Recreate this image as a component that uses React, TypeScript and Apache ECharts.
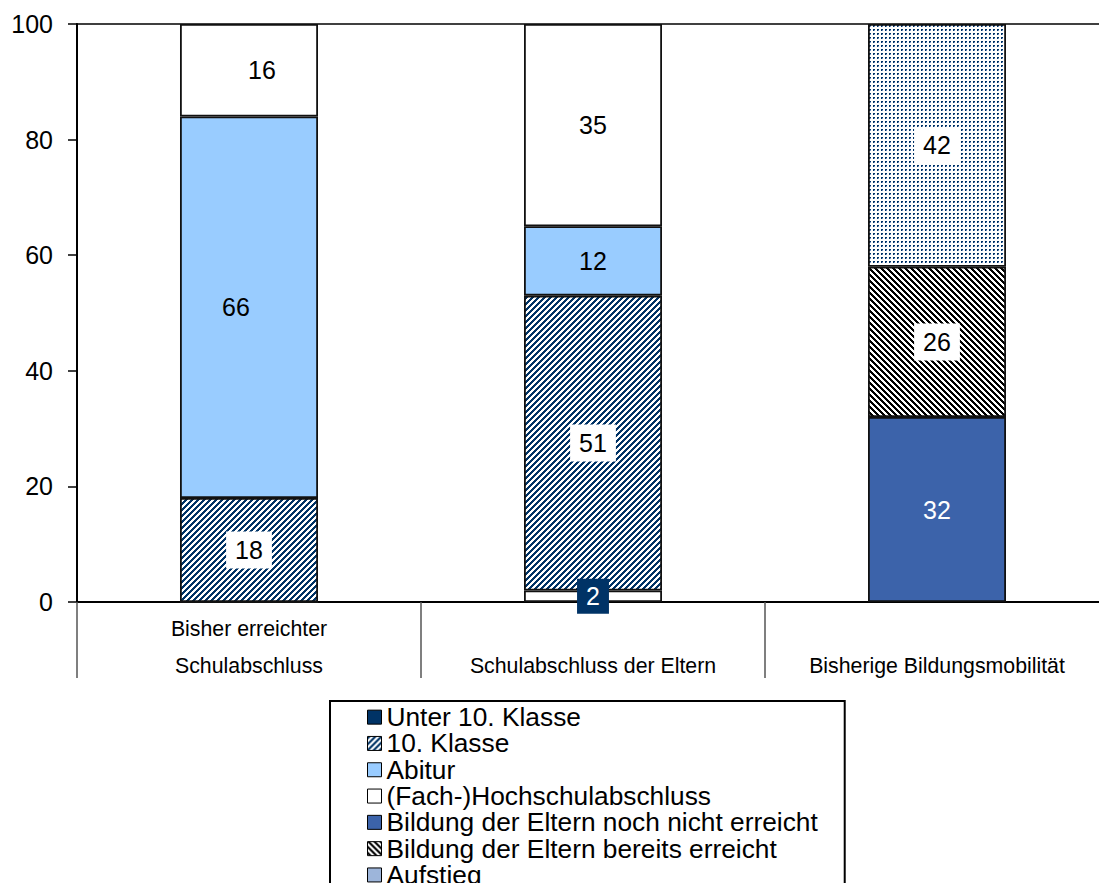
import React, { useEffect, useRef } from 'react';
import * as echarts from 'echarts';

const FONT = '"Liberation Sans", Arial, Helvetica, sans-serif';

const categories = ['Bisher erreichter\nSchulabschluss', 'Schulabschluss der Eltern', 'Bisherige Bildungsmobilität'];
const yMin = 0;
const yMax = 100;
const yStep = 20;

const seriesNames = [
  'Unter 10. Klasse',
  '10. Klasse',
  'Abitur',
  '(Fach-)Hochschulabschluss',
  'Bildung der Eltern noch nicht erreicht',
  'Bildung der Eltern bereits erreicht',
  'Aufstieg',
];

const unter10: (number | string)[] = [0, 2, '-'];
const klasse10: (number | string)[] = [18, 51, '-'];
const abitur: (number | string)[] = [66, 12, '-'];
const hochschul: (number | string)[] = [16, 35, '-'];
const nochNicht: (number | string)[] = ['-', '-', 32];
const bereits: (number | string)[] = ['-', '-', 26];
const aufstieg: (number | string)[] = ['-', '-', 42];

type RGB = [number, number, number];

function makeTile(size: number, fn: (x: number, y: number) => RGB) {
  const c = document.createElement('canvas');
  c.width = size;
  c.height = size;
  const ctx = c.getContext('2d')!;
  const img = ctx.createImageData(size, size);
  for (let y = 0; y < size; y++) {
    for (let x = 0; x < size; x++) {
      const [r, g, b] = fn(x, y);
      const i = (y * size + x) * 4;
      img.data[i] = r;
      img.data[i + 1] = g;
      img.data[i + 2] = b;
      img.data[i + 3] = 255;
    }
  }
  ctx.putImageData(img, 0, 0);
  return { image: c.toDataURL(), imageWidth: size, imageHeight: size, repeat: 'repeat' };
}

const NAVY: RGB = [0, 51, 102];
const WHITE: RGB = [255, 255, 255];
const BLACK: RGB = [0, 0, 0];
const LIGHT: RGB = [120, 150, 200];

function buildOption() {
  const stripeNavy = makeTile(6, (x, y) => ((x + y) % 6 < 3 ? NAVY : WHITE));
  const stripeBlack = makeTile(6, (x, y) => ((x - y + 60) % 6 < 3 ? BLACK : WHITE));
  const dots = makeTile(4, (x, y) => {
    if (y === 1 && (x === 1 || x === 2)) return NAVY;
    if (y === 2 && x === 1) return NAVY;
    if (y === 2 && x === 2) return LIGHT;
    return WHITE;
  });

  const baseLabel = {
    show: true,
    position: 'inside',
    fontSize: 25,
    fontFamily: FONT,
    color: '#000',
    backgroundColor: '#fff',
    padding: [6, 9],
  };

  const labelOverrides: Record<string, any> = {
    'Abitur|0': { offset: [-13, 0] },
    '(Fach-)Hochschulabschluss|0': { offset: [13, 0] },
  };

  const mkData = (name: string, arr: (number | string)[]) =>
    arr.map((v, i) => {
      if (v === 0) return { value: 0, label: { show: false } };
      const o = labelOverrides[name + '|' + i];
      return o ? { value: v, label: o } : v;
    });

  const common = {
    type: 'bar',
    stack: 'total',
    barWidth: 138,
    xAxisIndex: 0,
    yAxisIndex: 0,
  };
  const border = { borderColor: '#111', borderWidth: 1.8 };

  const unterData = mkData(seriesNames[0], unter10).map((d: any, i: number) =>
    i === 1 && typeof d === 'number'
      ? {
          value: d,
          itemStyle: { color: '#fff' },
          label: { color: '#fff', backgroundColor: '#003366', padding: [8, 9, 2, 9] },
        }
      : d
  );

  const series = [
    { ...common, name: seriesNames[0], data: unterData, itemStyle: { color: '#003366', ...border }, label: baseLabel },
    { ...common, name: seriesNames[1], data: mkData(seriesNames[1], klasse10), itemStyle: { color: stripeNavy, ...border }, label: baseLabel },
    { ...common, name: seriesNames[2], data: mkData(seriesNames[2], abitur), itemStyle: { color: '#99CCFF', ...border }, label: { ...baseLabel, backgroundColor: 'transparent' } },
    { ...common, name: seriesNames[3], data: mkData(seriesNames[3], hochschul), itemStyle: { color: '#FFFFFF', ...border }, label: baseLabel },
    { ...common, name: seriesNames[4], data: mkData(seriesNames[4], nochNicht), itemStyle: { color: '#3C63AA', ...border }, label: { ...baseLabel, color: '#fff', backgroundColor: 'transparent' } },
    { ...common, name: seriesNames[5], data: mkData(seriesNames[5], bereits), itemStyle: { color: stripeBlack, ...border }, label: baseLabel },
    { ...common, name: seriesNames[6], data: mkData(seriesNames[6], aufstieg), itemStyle: { color: dots, ...border }, label: baseLabel },
  ];

  return {
    animation: false,
    textStyle: { fontFamily: FONT },
    grid: { left: 77, top: 24, width: 1032, height: 578, containLabel: false },
    legend: {
      orient: 'vertical',
      left: 330,
      top: 701,
      padding: [3, 27, 3, 37],
      icon: 'rect',
      itemWidth: 14,
      itemHeight: 14,
      itemGap: 0,
      borderColor: '#000',
      borderWidth: 2,
      backgroundColor: '#fff',
      selectedMode: false,
      textStyle: { fontSize: 26.3, lineHeight: 26.3, color: '#000', fontFamily: FONT },
      itemStyle: { borderColor: '#000', borderWidth: 1 },
      data: seriesNames.map((n) =>
        n === 'Aufstieg' ? { name: n, itemStyle: { color: '#9DB5DA', borderColor: '#000', borderWidth: 1 } } : { name: n }
      ),
    },
    xAxis: [
      {
        type: 'category',
        data: categories,
        position: 'bottom',
        axisLine: { show: true, lineStyle: { color: '#000', width: 2 } },
        axisTick: { show: true, length: 76, lineStyle: { color: '#555', width: 1.5 } },
        axisLabel: {
          interval: 0,
          fontSize: 21.3,
          fontFamily: FONT,
          color: '#000',
          lineHeight: 37,
          verticalAlign: 'bottom',
          margin: 82,
        },
        splitLine: { show: false },
      },
      {
        type: 'category',
        data: categories,
        position: 'top',
        axisLine: { show: true, lineStyle: { color: '#000', width: 1.5 } },
        axisTick: { show: false },
        axisLabel: { show: false },
        splitLine: { show: false },
      },
    ],
    yAxis: {
      type: 'value',
      min: yMin,
      max: yMax,
      interval: yStep,
      axisLine: { show: true, lineStyle: { color: '#000', width: 2 } },
      axisTick: { show: true, length: 9, lineStyle: { color: '#000', width: 1.5 } },
      axisLabel: { fontSize: 25, fontFamily: FONT, color: '#000', margin: 24 },
      splitLine: { show: false },
    },
    series,
  };
}

export default function App() {
  const ref = useRef<HTMLDivElement>(null);
  useEffect(() => {
    if (!ref.current) return;
    const chart = echarts.init(ref.current, undefined, { renderer: 'svg' });
    chart.setOption(buildOption() as any);
    return () => chart.dispose();
  }, []);
  return (
    <div
      style={{
        position: 'absolute',
        left: 0,
        top: 0,
        width: 1099,
        height: 883,
        overflow: 'hidden',
        background: '#fff',
      }}
    >
      <div ref={ref} style={{ width: 1130, height: 960 }} />
    </div>
  );
}
